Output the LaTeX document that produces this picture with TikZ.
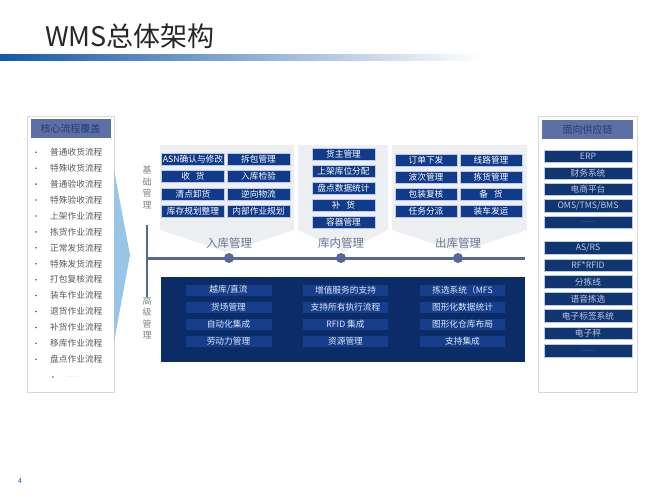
\documentclass[tikz,border=0pt]{standalone}
\usepackage{fontspec}
\setmainfont{Noto Sans CJK SC}
\definecolor{navy}{RGB}{16,58,138}
\definecolor{deepnavy}{RGB}{12,44,104}
\definecolor{midnavy}{RGB}{22,62,138}
\definecolor{sidenavy}{RGB}{16,54,114}
\definecolor{slate}{RGB}{92,112,166}
\definecolor{slatetext}{RGB}{38,58,118}
\definecolor{axis}{RGB}{88,104,150}
\definecolor{panelgray}{RGB}{238,239,242}
\definecolor{listgray}{RGB}{89,89,89}
\definecolor{arrowblue}{RGB}{152,196,232}
\definecolor{titleblue}{RGB}{20,88,168}
\definecolor{stagegray}{RGB}{108,118,145}
\definecolor{titlegray}{RGB}{38,38,38}
\definecolor{celledge}{RGB}{190,202,228}
\definecolor{hightext}{RGB}{222,230,246}
\definecolor{sidetext}{RGB}{188,198,224}
\tikzset{
	cellbox/.style={fill=navy,draw=celledge,line width=0.4pt,text=white,minimum width=63pt,minimum height=12pt,inner sep=0pt},
	highbox/.style={fill=midnavy,text=hightext,minimum width=86pt,minimum height=11pt,inner sep=0pt},
	sidebox/.style={fill=sidenavy,draw=celledge,line width=0.4pt,text=sidetext,minimum width=88pt,minimum height=12.5pt,inner sep=0pt},
	headbox/.style={fill=slate,text=slatetext,minimum height=19pt,inner sep=0pt,font=\fontsize{10}{12}\selectfont},
	listitem/.style={text=listgray,anchor=west,inner sep=0pt},
	sidetag/.style={text=gray,align=center,font=\fontsize{9}{11.5}\selectfont},
	stage/.style={text=stagegray,font=\fontsize{11.5}{13}\selectfont}
}
\newcommand{\smalldots}{{\fontsize{5.5}{6}\selectfont ……}}
\begin{document}
\begin{tikzpicture}[x=1pt,y=-1pt,font=\fontsize{8.7}{10}\selectfont]%WMS
	\useasboundingbox (0,0) rectangle (667,500);
	% title
	\shade[left color=titleblue,right color=white] (0,55) rectangle (482,60.5);
	\node[anchor=base west,inner sep=0pt,text=titlegray,font=\fontsize{27}{32}\selectfont] (title) at (45,47) {WMS总体架构};
	\node[text=titleblue,font=\fontsize{7}{8}\selectfont] (page) at (20,481) {4};
	% left list
	\draw[gray!30,fill=white] (27,116) rectangle (114,392);
	\node[headbox,minimum width=80pt] (core) at (70.5,129) {核心流程覆盖};
	\foreach \t [count=\i] in {普通收货流程,特殊收货流程,普通验收流程,特殊验收流程,上架作业流程,拣货作业流程,正常发货流程,特殊发货流程,打包复核流程,装车作业流程,退货作业流程,补货作业流程,移库作业流程,盘点作业流程}
	{\fill[listgray] (36,{152.3+15.92*(\i-1)}) circle (0.9);
	\node[listitem] (flow\i) at (50,{152.3+15.92*(\i-1)}) {\t};}
	\fill[listgray] (53,377) circle (0.9);
	\node[listitem,text=gray!70] (flowmore) at (67,377) {\smalldots};
	\fill[arrowblue] (114,170) -- (130,255) -- (114,342) -- cycle;
	% base panels
	\fill[panelgray] (160,145) -- (294,145) -- (294,230) -- (227,252) -- (160,230) -- cycle;
	\fill[panelgray] (298,145) -- (388,145) -- (388,230) -- (343,252) -- (298,230) -- cycle;
	\fill[panelgray] (392,145) -- (527,145) -- (527,230) -- (459.5,252) -- (392,230) -- cycle;
	\foreach \a/\b/\y [count=\i] in {ASN确认与修改/拆包管理/159,收\hspace{6pt}货/入库检验/176.5,清点卸货/逆向物流/194,库存规划整理/内部作业规划/211.5}
	{\node[cellbox] (inA\i) at (193,\y) {\a};
	\node[cellbox] (inB\i) at (258.5,\y) {\b};}
	\foreach \a/\y [count=\i] in {货主管理/154,上架库位分配/171,盘点数据统计/188,补\hspace{6pt}货/205,容器管理/222}
	\node[cellbox] (mid\i) at (343.5,\y) {\a};
	\foreach \a/\b/\y [count=\i] in {订单下发/线路管理/160,波次管理/拣货管理/177,包装复核/备\hspace{6pt}货/194.5,任务分派/装车发运/211.5}
	{\node[cellbox,minimum width=62pt] (outA\i) at (426,\y) {\a};
	\node[cellbox,minimum width=62pt] (outB\i) at (491,\y) {\b};}
	\node[stage] (inbound) at (229,243) {入库管理};
	\node[stage] (inside) at (341,243) {库内管理};
	\node[stage] (outbound) at (458,243) {出库管理};
	% axis
	\path
	(147,225) coordinate (T)
	(147,297) coordinate (D)
	(147,258) coordinate (O)
	(525,258) coordinate (E);
	\draw[axis,line width=1.5pt] (T)--(D);
	\draw[axis,line width=3pt] (O)--(E);
	\foreach \p/\q in {inbound/229,inside/341,outbound/458}
	\fill[axis] (\q,258) circle (5);
	\node[sidetag] (base) at (147,187.5) {基\\础\\管\\理};
	\node[sidetag] (high) at (147,318) {高\\级\\管\\理};
	% high level
	\fill[deepnavy] (161,277) rectangle (525,362);
	\foreach \a/\b/\c/\y [count=\i] in {{越库/直流}/增值服务的支持/拣选系统（MFS/290,货场管理/支持所有执行流程/图形化数据统计/307,自动化集成/RFID 集成/图形化仓库布局/324,劳动力管理/资源管理/支持集成/341}
	{\node[highbox] (hiA\i) at (228.5,\y) {\a};
	\node[highbox,minimum width=85pt] (hiB\i) at (345.5,\y) {\b};
	\node[highbox,minimum width=85pt] (hiC\i) at (462.5,\y) {\c};}
	% right list
	\draw[gray!30,fill=white] (538,116) rectangle (637,392);
	\node[headbox,minimum width=91pt] (chain) at (587.5,129.5) {面向供应链};
	\foreach \a/\y [count=\i] in {ERP/156.3,财务系统/173,电商平台/189,{OMS/TMS/BMS}/205.5,\smalldots/222.2,{AS/RS}/247.5,RF*RFID/265,分拣线/281.7,语音拣选/298.8,电子标签系统/315.8,电子秤/333.3,\smalldots/350.7}
	\node[sidebox] (sys\i) at (588,\y) {\a};
\end{tikzpicture}
\end{document}
